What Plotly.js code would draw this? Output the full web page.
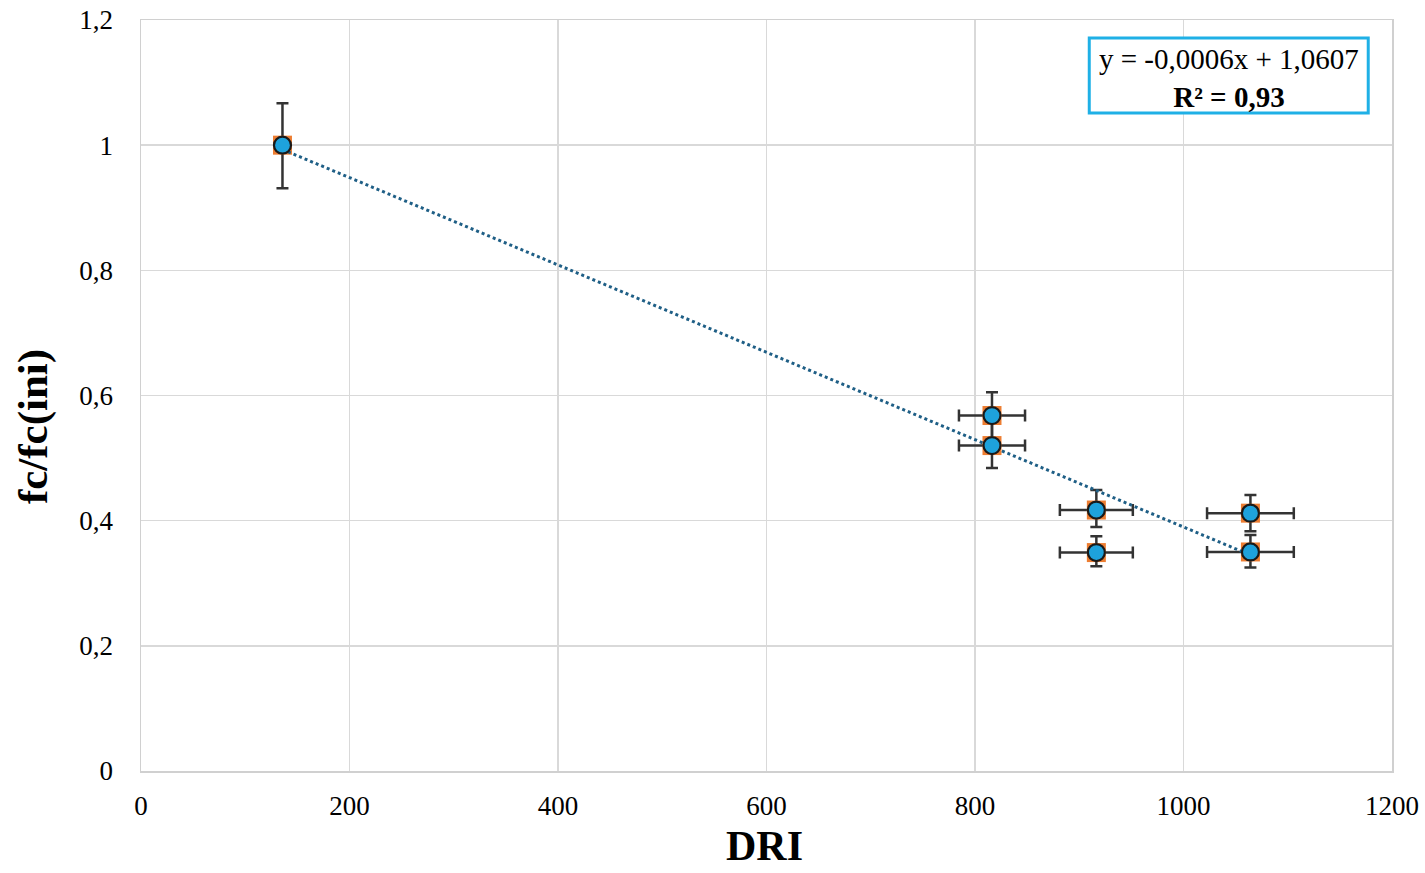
<!DOCTYPE html>
<html>
<head>
<meta charset="utf-8">
<script src="https://cdn.plot.ly/plotly-3.0.1.min.js"></script>
<style>html,body{margin:0;padding:0;background:#fff;}#chart{width:1425px;height:873px;}</style>
</head>
<body>
<div id="chart"></div>
<script>
// Data
const dri      = [135.7, 816.3, 816.3, 916.4, 916.4, 1064.2, 1064.2];
const fcRatio  = [1.000, 0.568, 0.520, 0.417, 0.349, 0.412, 0.350];
const errYPlus  = [0.067, 0.037, 0.036, 0.032, 0.026, 0.029, 0.027];
const errYMinus = [0.069, 0.037, 0.036, 0.027, 0.022, 0.029, 0.025];
const errX      = [0, 31.7, 31.7, 35.0, 35.0, 41.6, 41.6];
const equationText = "y = -0,0006x + 1,0607";
const r2Text = "R² = 0,93";
const xTitle = "DRI";
const yTitle = "fc/fc(ini)";
const xTicks = [0, 200, 400, 600, 800, 1000, 1200];
const yTicks = [0, 0.2, 0.4, 0.6, 0.8, 1.0, 1.2];
const yTickText = ['0','0,2','0,4','0,6','0,8','1','1,2'];

// least-squares trendline of the points
const n = dri.length;
const mx = dri.reduce((a,b)=>a+b,0)/n;
const my = fcRatio.reduce((a,b)=>a+b,0)/n;
let sxy=0, sxx=0;
for (let i=0;i<n;i++){ sxy += (dri[i]-mx)*(fcRatio[i]-my); sxx += (dri[i]-mx)*(dri[i]-mx); }
const slope = sxy/sxx, icpt = my - slope*mx;
const trendX = [Math.min(...dri), Math.max(...dri)];
const trendY = trendX.map(x => icpt + slope*x);

const serif = "Liberation Serif, Times New Roman, serif";

const traces = [
  {
    x: dri, y: fcRatio, type: 'scatter', mode: 'markers',
    marker: {symbol: 'square', size: 19, color: '#ED7D31', line: {width: 0}},
    error_y: {type: 'data', symmetric: false, array: errYPlus, arrayminus: errYMinus,
              color: '#333333', thickness: 2.5, width: 6},
    error_x: {type: 'data', array: errX, color: '#333333', thickness: 2.5, width: 6},
    hoverinfo: 'skip', showlegend: false
  },
  {
    x: trendX, y: trendY, type: 'scatter', mode: 'lines',
    line: {color: '#1f5f86', width: 3, dash: 'dot'},
    hoverinfo: 'skip', showlegend: false
  },
  {
    x: dri, y: fcRatio, type: 'scatter', mode: 'markers',
    marker: {symbol: 'circle', size: 17, color: '#1ea2dc', line: {width: 2.2, color: '#1a1a1a'}},
    showlegend: false
  }
];

const layout = {
  width: 1425, height: 873,
  margin: {l: 141, r: 33, t: 20, b: 102, pad: 0},
  paper_bgcolor: '#ffffff', plot_bgcolor: '#ffffff',
  separators: ', ',
  font: {family: serif, color: '#000000', size: 27},
  xaxis: {
    range: [0, 1200], tickvals: xTicks, ticktext: xTicks.map(String),
    showgrid: true, gridcolor: '#d9d9d9', gridwidth: 1.5,
    showline: true, linecolor: '#d0d0d0', linewidth: 1.5, mirror: true,
    zeroline: false, ticks: '', ticklabelstandoff: 10,
    tickfont: {family: serif, size: 27, color: '#000'}
  },
  yaxis: {
    range: [0, 1.2], tickvals: yTicks, ticktext: yTickText,
    showgrid: true, gridcolor: '#d9d9d9', gridwidth: 1.5,
    showline: true, linecolor: '#d0d0d0', linewidth: 1.5, mirror: true,
    zeroline: false, ticks: '', ticklabelstandoff: 21,
    tickfont: {family: serif, size: 27, color: '#000'}
  },
  shapes: [{
    type: 'rect', xref: 'paper', yref: 'paper',
    x0: 0.758, x1: 0.981, y0: 0.876, y1: 0.976,
    line: {color: '#1fb0e6', width: 3}, fillcolor: '#ffffff', layer: 'above'
  }],
  annotations: [
    {
      xref: 'paper', yref: 'paper', x: 0.8695, y: 0.9225, xanchor: 'center', yanchor: 'middle',
      showarrow: false, align: 'center',
      text: equationText + '<br><b>' + r2Text + '</b>',
      font: {family: serif, size: 29, color: '#000'}
    },
    {
      xref: 'paper', yref: 'paper', x: 0.4988, y: -0.1, xanchor: 'center', yanchor: 'middle',
      showarrow: false, text: '<b>' + xTitle + '</b>', borderpad: 0,
      font: {family: serif, size: 42, color: '#000'}
    },
    {
      xref: 'paper', yref: 'paper', x: -0.0863, y: 0.458, xanchor: 'center', yanchor: 'middle',
      showarrow: false, textangle: -90, text: '<b>' + yTitle + '</b>',
      font: {family: serif, size: 43, color: '#000'}
    }
  ]
};

Plotly.newPlot('chart', traces, layout, {displayModeBar: false, staticPlot: true});
</script>
</body>
</html>
